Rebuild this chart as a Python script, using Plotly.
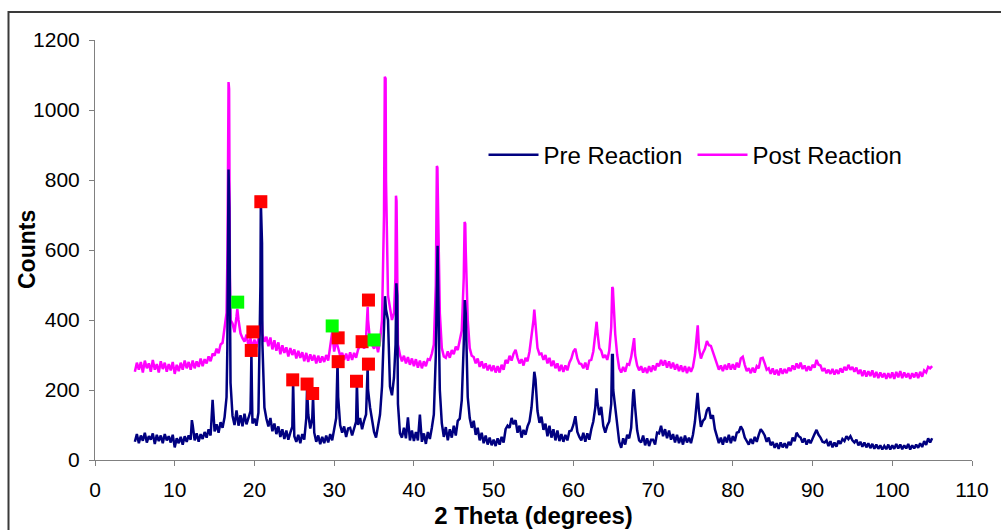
import numpy as np
import plotly.graph_objects as go

# Step-scan angles (degrees 2-theta)
scan_start, scan_stop, scan_step = 5.0, 105.0, 0.25

# Pre reaction: counts at each scan step (20 readings per 5 degrees)
pre_counts = [
    52, 74, 48, 70, 55, 78, 50, 68, 58, 76, 46, 72, 54, 70, 48, 74, 56, 68, 50, 72,              # 5
    36, 62, 48, 66, 44, 68, 52, 70, 58, 100, 56, 76, 52, 74, 60, 80, 64, 88, 70, 172,            # 10
    82, 102, 78, 108, 92, 122, 180, 830, 220, 126, 100, 142, 98, 128, 96, 132, 102, 120, 140, 104,  # 15
    118, 98, 135, 500, 330, 150, 118, 96, 120, 82, 104, 74, 96, 66, 88, 60, 84, 58, 78, 95,      # 20
    68, 52, 72, 48, 74, 58, 120, 130, 90, 120, 78, 52, 70, 45, 66, 48, 70, 50, 74, 56,           # 25
    95, 120, 180, 100, 78, 96, 66, 90, 92, 70, 92, 110, 100, 120, 88, 112, 130, 200, 150, 120,   # 30
    80, 64, 98, 130, 210, 380, 430, 400, 210, 185, 235, 420, 160, 76, 64, 92, 62, 122, 56, 84,   # 35
    54, 80, 56, 130, 52, 76, 46, 80, 60, 92, 130, 300, 560, 200, 105, 66, 94, 56, 88, 64,        # 40
    98, 70, 112, 118, 170, 330, 420, 180, 120, 92, 112, 72, 92, 56, 78, 48, 70, 44, 64, 42,      # 45
    58, 40, 62, 44, 66, 50, 88, 98, 92, 120, 102, 114, 78, 98, 64, 86, 72, 96, 110, 150,         # 50
    220, 230, 140, 106, 124, 86, 104, 68, 98, 64, 88, 56, 84, 54, 74, 52, 72, 56, 82, 84,        # 55
    100, 125, 80, 66, 56, 78, 52, 76, 58, 88, 110, 150, 170, 128, 152, 98, 78, 98, 110, 160,     # 60
    200, 150, 90, 52, 35, 62, 44, 72, 62, 92, 190, 150, 85, 56, 50, 70, 42, 62, 40, 58,          # 65
    58, 44, 78, 76, 98, 68, 88, 62, 84, 58, 74, 50, 72, 48, 66, 44, 70, 50, 64, 48,              # 70
    72, 110, 160, 140, 95, 112, 118, 142, 150, 118, 128, 88, 66, 48, 64, 44, 66, 50, 72, 48,     # 75
    68, 54, 78, 80, 96, 86, 64, 52, 44, 60, 46, 66, 52, 72, 88, 80, 70, 52, 64, 42,              # 80
    52, 35, 48, 32, 50, 36, 48, 34, 52, 42, 64, 54, 78, 68, 64, 50, 62, 44, 58, 48,              # 85
    64, 74, 86, 72, 64, 52, 50, 56, 40, 54, 36, 50, 38, 55, 46, 60, 54, 68, 60, 68,              # 90
    56, 50, 58, 42, 52, 38, 50, 36, 48, 34, 46, 32, 44, 32, 42, 30, 40, 31, 44, 30,              # 95
    42, 32, 46, 33, 44, 31, 42, 33, 46, 30, 42, 33, 44, 35, 48, 37, 54, 43, 62, 50,              # 100
    62,                                                                                           # 105
]

# Post reaction: counts at each scan step
post_counts = [
    252, 278, 258, 280, 250, 284, 262, 276, 252, 286, 258, 274, 250, 282, 260, 278, 252, 274, 256, 280,  # 5
    246, 272, 254, 278, 258, 284, 262, 280, 258, 284, 262, 282, 266, 290, 268, 288, 276, 296, 282, 304,  # 10
    298, 318, 305, 330, 335, 380, 420, 1080, 400, 390, 365, 410, 400, 362, 348, 338, 358, 326, 348, 318, # 15
    344, 322, 348, 380, 360, 338, 352, 325, 350, 316, 342, 312, 336, 302, 328, 306, 322, 296, 320, 300,  # 20
    316, 290, 312, 292, 308, 282, 306, 280, 302, 284, 300, 276, 298, 278, 296, 280, 300, 284, 330, 365,  # 25
    310, 340, 320, 298, 306, 286, 304, 284, 308, 286, 306, 292, 316, 325, 338, 318, 350, 400, 340, 330,  # 30
    318, 338, 308, 340, 400, 700, 800, 470, 440, 400, 420, 755, 330, 300, 282, 298, 276, 294, 272, 290,  # 35
    268, 288, 264, 284, 262, 282, 268, 288, 286, 304, 330, 500, 760, 420, 320, 296, 292, 310, 292, 314,  # 40
    302, 324, 314, 342, 370, 520, 600, 400, 320, 298, 294, 276, 290, 266, 282, 262, 276, 256, 272, 254,  # 45
    270, 250, 268, 250, 272, 258, 286, 276, 298, 284, 304, 315, 292, 276, 288, 270, 292, 282, 310, 350,  # 50
    400, 380, 320, 302, 304, 286, 300, 276, 292, 268, 284, 262, 276, 254, 272, 252, 270, 256, 278, 290,  # 55
    310, 318, 290, 276, 274, 262, 278, 258, 284, 286, 310, 360, 370, 320, 312, 292, 300, 286, 312, 380,  # 60
    470, 360, 300, 262, 250, 266, 252, 274, 272, 294, 330, 300, 270, 256, 268, 250, 264, 248, 268, 252,  # 65
    270, 256, 276, 268, 286, 270, 285, 264, 282, 262, 278, 258, 274, 254, 270, 252, 268, 248, 266, 252,  # 70
    266, 300, 370, 320, 290, 306, 318, 340, 328, 326, 308, 292, 276, 258, 270, 254, 272, 258, 276, 258,  # 75
    274, 258, 278, 264, 290, 295, 272, 254, 262, 248, 264, 250, 268, 262, 290, 292, 276, 258, 262, 246,  # 80
    262, 244, 258, 242, 262, 246, 260, 248, 264, 254, 270, 258, 276, 262, 278, 260, 270, 254, 268, 256,  # 85
    272, 264, 286, 272, 270, 254, 262, 248, 258, 246, 260, 244, 258, 246, 262, 250, 266, 256, 272, 258,  # 90
    266, 252, 264, 246, 258, 240, 256, 238, 254, 240, 256, 236, 252, 234, 250, 236, 248, 232, 248, 234,  # 95
    250, 232, 252, 236, 254, 234, 250, 236, 248, 232, 248, 236, 250, 234, 252, 238, 256, 250, 266, 262,  # 100
    268,                                                                                                  # 105
]

# Sharp reflections read between scan steps: (2-theta, counts)
pre_peaks = [
    (12.15, 114), (16.6, 320), (16.85, 720), (16.92, 350),
    (19.55, 200), (19.62, 308), (19.68, 200),
    (20.8, 738), (20.9, 640), (20.95, 620),
    (24.85, 225), (26.6, 205), (27.35, 182), (30.42, 280), (32.85, 222), (34.2, 268),
    (36.38, 468), (37.7, 330), (37.8, 505), (37.9, 470),
    (42.9, 520), (42.97, 612), (46.38, 457), (55.1, 252), (62.9, 205),
    (64.85, 300), (64.95, 300), (67.58, 202), (75.58, 192),
]

post_peaks = [
    (16.62, 600), (16.82, 1060), (16.92, 520), (17.85, 432), (20.85, 434), (34.2, 438),
    (36.35, 1095), (36.45, 1090), (37.68, 520), (37.82, 740),
    (42.88, 840), (42.95, 835), (46.36, 680), (46.44, 675), (55.1, 430), (62.92, 395),
    (64.88, 494), (64.96, 490), (67.62, 348), (75.6, 385),
]

# Phase identification markers (2-theta, counts)
red_marks_x = [20.8, 19.8, 19.6, 24.8, 26.6, 27.3, 30.5, 30.5, 32.8, 33.5, 34.3, 34.3]
red_marks_y = [738, 366, 313, 229, 217, 190, 349, 281, 225, 338, 457, 274]
green_marks_x = [17.9, 29.75, 35.0]
green_marks_y = [451, 383, 343]


def merge_scan(counts, peaks):
    angles = np.arange(scan_start, scan_stop + scan_step / 2, scan_step)
    assert len(angles) == len(counts), (len(angles), len(counts))
    pts = list(zip(angles.tolist(), counts)) + list(peaks)
    pts.sort(key=lambda p: p[0])
    return [p[0] for p in pts], [p[1] for p in pts]


pre_x, pre_y = merge_scan(pre_counts, pre_peaks)
post_x, post_y = merge_scan(post_counts, post_peaks)

font_family = "Arial, 'Liberation Sans', sans-serif"

fig = go.Figure()
fig.add_trace(go.Scatter(x=post_x, y=post_y, mode="lines", name="Post Reaction",
                         line=dict(color="#FF00FF", width=2.5)))
fig.add_trace(go.Scatter(x=pre_x, y=pre_y, mode="lines", name="Pre Reaction",
                         line=dict(color="#000080", width=2.5)))
fig.add_trace(go.Scatter(x=red_marks_x, y=red_marks_y, mode="markers", showlegend=False,
                         marker=dict(symbol="square", size=13, color="#FF0000")))
fig.add_trace(go.Scatter(x=green_marks_x, y=green_marks_y, mode="markers", showlegend=False,
                         marker=dict(symbol="square", size=13, color="#00FF00")))

axis_common = dict(showgrid=False, zeroline=False, showline=True, linecolor="#808080",
                   linewidth=1, ticks="outside", ticklen=5, tickcolor="#808080",
                   automargin=False,
                   tickfont=dict(size=21, color="#000000", family=font_family))

fig.update_xaxes(range=[0, 110], tickmode="array", tickvals=list(range(0, 111, 10)),
                 ticklabelstandoff=6,
                 title=dict(text="<b>2 Theta (degrees)</b>", standoff=6,
                            font=dict(size=24, color="#000000", family=font_family)),
                 **axis_common)
fig.update_yaxes(range=[0, 1200], tickmode="array", tickvals=list(range(0, 1201, 200)),
                 ticklabelstandoff=5, **axis_common)

# y-axis title placed beside the tick labels
fig.add_annotation(text="<b>Counts</b>", textangle=-90, xref="paper", yref="paper",
                   x=(27 - 95) / 877, y=0.5, xanchor="center", yanchor="middle",
                   showarrow=False, font=dict(size=23, color="#000000", family=font_family))

# Outer chart frame
fig.add_shape(type="rect", xref="paper", yref="paper",
              x0=(8.5 - 95) / 877, x1=(1015 - 95) / 877,
              y0=(460 - 545) / 420, y1=(460 - 12) / 420,
              line=dict(color="#3a3a3a", width=2), fillcolor="rgba(0,0,0,0)", layer="below")

fig.update_layout(
    width=1001, height=530,
    margin=dict(l=95, r=29, t=40, b=70, autoexpand=False),
    paper_bgcolor="white", plot_bgcolor="white",
    font=dict(family=font_family, color="#000000"),
    legend=dict(orientation="h", traceorder="reversed", x=0.443, y=0.726,
                xanchor="left", yanchor="middle", bgcolor="rgba(0,0,0,0)",
                itemwidth=50, entrywidth=144, entrywidthmode="pixels",
                font=dict(size=24, family=font_family, color="#000000")),
)

fig.write_html("out.html")
